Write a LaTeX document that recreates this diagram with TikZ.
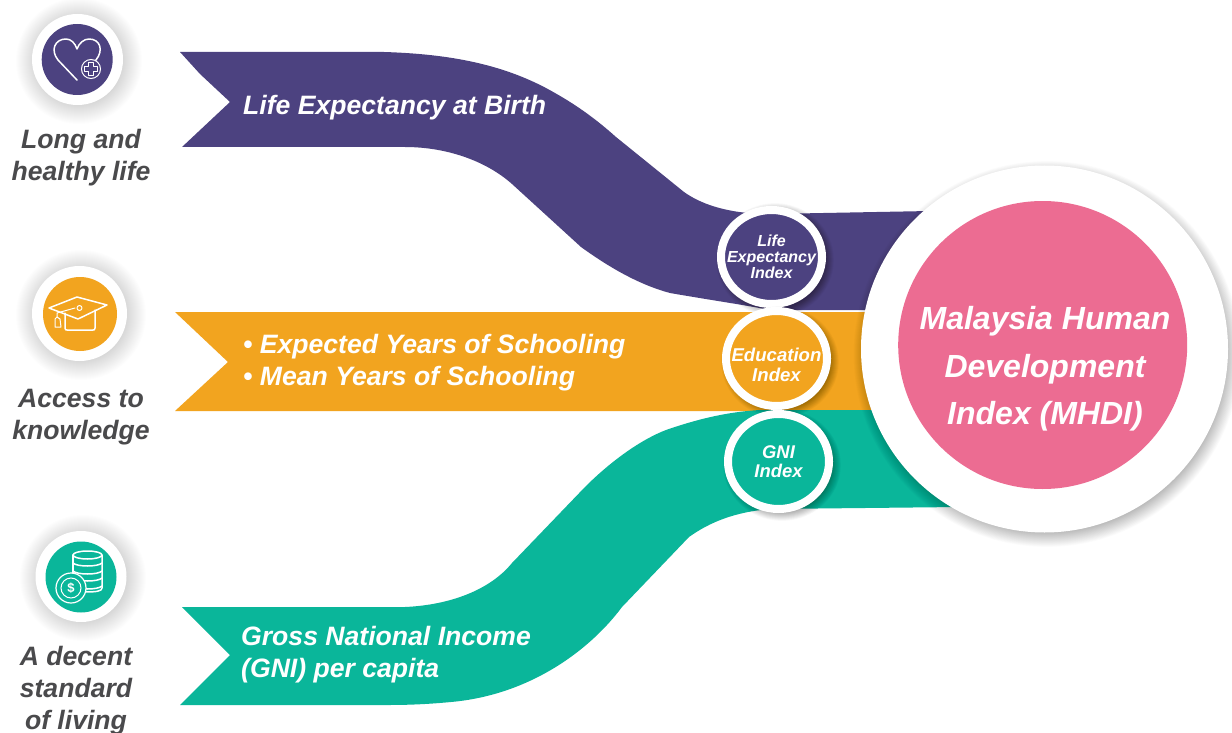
\documentclass[tikz,border=0pt]{standalone}
\usepackage{fontspec}
\setmainfont{Liberation Sans}
\usetikzlibrary{shapes.geometric}
\definecolor{cpurple}{HTML}{4C4280}
\definecolor{corange}{HTML}{F2A41F}
\definecolor{cteal}{HTML}{0AB69A}
\definecolor{cpink}{HTML}{EC6C92}
\definecolor{cgrey}{HTML}{4A4A4C}
\newcommand{\softshadow}[6]{%
  \foreach \k in {1,...,30}{
    \fill[black,opacity=#6] (#1,#2) ellipse [x radius={#3+(\k-15)*#5/30},y radius={#4+(\k-15)*#5/30}];
  }}
\newcommand{\txt}[2]{\fontsize{#1}{#2}\selectfont\bfseries\itshape}
\tikzset{
  x=1pt,y=-1pt,
  band/.style={draw=none},
  ring/.style={ellipse,draw=white,line width=8pt,inner sep=0pt,outer sep=0pt},
  bigtext/.style={text=white,align=center,inner sep=0pt,font=\txt{32}{47.5}},
  bandtext/.style={text=white,align=left,inner sep=0pt,anchor=west,font=\txt{26.6}{32}},
  idxtext/.style={text=white,align=center,inner sep=0pt,font=\txt{16}{16}},
  idxtextb/.style={text=white,align=center,inner sep=0pt,font=\txt{18.6}{20}},
  idxtextc/.style={text=white,align=center,inner sep=0pt,font=\txt{18.4}{19}},
  sidetext/.style={text=cgrey,align=center,inner sep=0pt,font=\txt{26.6}{32}},
  iconline/.style={draw=white,line width=1.5pt,line join=round,line cap=round},
  iconbase/.style={circle,fill=white,inner sep=0pt,outer sep=0pt},
  icondisc/.style={circle,inner sep=0pt,outer sep=0pt},
}
\begin{document}
\begin{tikzpicture}
\useasboundingbox (0,0) rectangle (1232,733);
\fill[white] (0,0) rectangle (1232,733);

% bands
\fill[cpurple,band] (180,52) -- (384,52) .. controls (449,54) and (505,64) .. (555,93)
  .. controls (578,106) and (597,120) .. (616,137) -- (684,192)
  .. controls (705,207) and (735,214) .. (770,214) -- (930,211) -- (930,310) -- (770,310)
  .. controls (745,305) and (710,300) .. (670,293)
  .. controls (640,285) and (610,268) .. (581,247) -- (512,184)
  .. controls (485,160) and (445,147) .. (405,147) -- (182,147) -- (230,102) -- (200,74) -- cycle;
\fill[corange,band] (175,312) -- (900,312) -- (900,411) -- (175,411) -- (228,362) -- cycle;
\fill[cteal,band] (182,607) -- (405,607) .. controls (450,605) and (490,590) .. (512,563)
  -- (585,487) .. controls (610,462) and (640,440) .. (666,430)
  .. controls (695,420) and (725,412) .. (760,410) -- (960,410) -- (960,507) -- (770,509)
  .. controls (735,512) and (710,522) .. (689,537) -- (622,607)
  .. controls (590,650) and (530,695) .. (451,702)
  .. controls (430,704) and (410,705) .. (389,705) -- (180,705) -- (230,655) -- cycle;

% index circles
\softshadow{775}{260}{54}{52}{10}{0.012}
\node[ring,fill=cpurple,minimum width=101pt,minimum height=94pt] (life) at (771.5,257) {};
\node[idxtext] at (life.center) {Life\\Expectancy\\Index};
\softshadow{780}{362}{54}{51}{10}{0.012}
\node[ring,fill=corange,minimum width=101pt,minimum height=95pt] (edu) at (776.5,358.5) {};
\node[idxtextb] at ([yshift=-6pt]edu.center) {Education\\Index};
\softshadow{782}{465}{54}{51}{10}{0.012}
\node[ring,fill=cteal,minimum width=101pt,minimum height=95pt] (gni) at (778.5,461.5) {};
\node[idxtextc] at (gni.center) {GNI\\Index};

% big circle
\softshadow{1047}{354}{183.5}{183}{20}{0.012}
\node[circle,fill=white,minimum size=367pt,inner sep=0pt,outer sep=0pt] (mhdiring) at (1044.5,349) {};
\node[ellipse,fill=cpink,minimum width=289pt,minimum height=288pt,inner sep=0pt,outer sep=0pt] (mhdi) at (1042.7,345) {};
\node[bigtext] at (1045,369) {Malaysia Human\\Development\\Index (MHDI)};

% band texts
\node[bandtext] (t1) at (243,108) {Life Expectancy at Birth};
\node[bandtext] (t2) at (243,363) {• Expected Years of Schooling\\• Mean Years of Schooling};
\node[bandtext] (t3) at (241,655) {Gross National Income\\(GNI) per capita};

% side labels
\node[sidetext] (s1) at (81,158) {Long and\\healthy life};
\node[sidetext] (s2) at (81,417) {Access to\\knowledge};
\node[sidetext] (s3) at (76,691) {A decent\\standard\\of living};

% icon 1: heart
\softshadow{79}{61}{48}{48}{30}{0.007}
\node[iconbase,minimum size=91pt] (ic1) at (77.5,59.5) {};
\node[icondisc,fill=cpurple,minimum size=71pt] (d1) at (77.2,59.5) {};
\draw[iconline] (77,80) -- (58,60) .. controls (50,50) and (55,39) .. (66,39)
  .. controls (71,39) and (75,43) .. (77,49) .. controls (79,43) and (84,39) .. (89,39)
  .. controls (100,39) and (104,50) .. (96,60) -- (90,67);
\node[circle,draw=white,fill=cpurple,line width=1pt,minimum size=19pt,inner sep=0pt] (plus) at (91,69) {};
\draw[white,line width=1pt,line join=round] (88.5,62.5) -- (93.5,62.5) -- (93.5,66.5) -- (97.5,66.5) -- (97.5,71.5) -- (93.5,71.5) -- (93.5,75.5) -- (88.5,75.5) -- (88.5,71.5) -- (84.5,71.5) -- (84.5,66.5) -- (88.5,66.5) -- cycle;

% icon 2: cap
\softshadow{81}{315}{50}{50}{30}{0.007}
\node[iconbase,minimum size=95pt] (ic2) at (79.5,313.5) {};
\node[icondisc,fill=corange,minimum size=74pt] (d2) at (80,314) {};
\draw[iconline] (49,308) -- (77,297) -- (107,305) -- (78,319) -- cycle;
\draw[iconline] (65,313) -- (65,328) .. controls (65,330) and (66,330) .. (67,330) -- (93,330) .. controls (94,330) and (95,330) .. (95,328) -- (95,310);
\draw[iconline,line width=1pt] (75,308) -- (57,313) -- (57,317);
\draw[iconline,line width=1pt] (79.5,308) circle [radius=2.5];
\draw[iconline,line width=1pt] (57,317) -- (55,319) -- (55,327) -- (61,327) -- (60,319) -- cycle;

% icon 3: coins
\softshadow{83}{578}{48}{48}{30}{0.007}
\node[iconbase,minimum size=91pt] (ic3) at (81,576.5) {};
\node[icondisc,fill=cteal,minimum size=71pt] (d3) at (81,577) {};
\draw[iconline] (73,555) -- (73,580);
\draw[iconline] (102,555) -- (102,588) .. controls (102,591) and (97,592) .. (85,592);
\draw[iconline] (87.5,555) ellipse [x radius=14.5,y radius=4];
\foreach \yy in {563,571,578,586}{
  \draw[iconline] (73,\yy) .. controls (77,\yy+4) and (98,\yy+4) .. (102,\yy);
}
\node[circle,draw=white,fill=cteal,line width=1.2pt,minimum size=30pt,inner sep=0pt] (coin) at (71,588) {};
\node[circle,draw=white,line width=1pt,minimum size=20pt,inner sep=0pt,text=white,font=\fontsize{13}{13}\selectfont\bfseries] at (coin.center) {\$};
\end{tikzpicture}
\end{document}
